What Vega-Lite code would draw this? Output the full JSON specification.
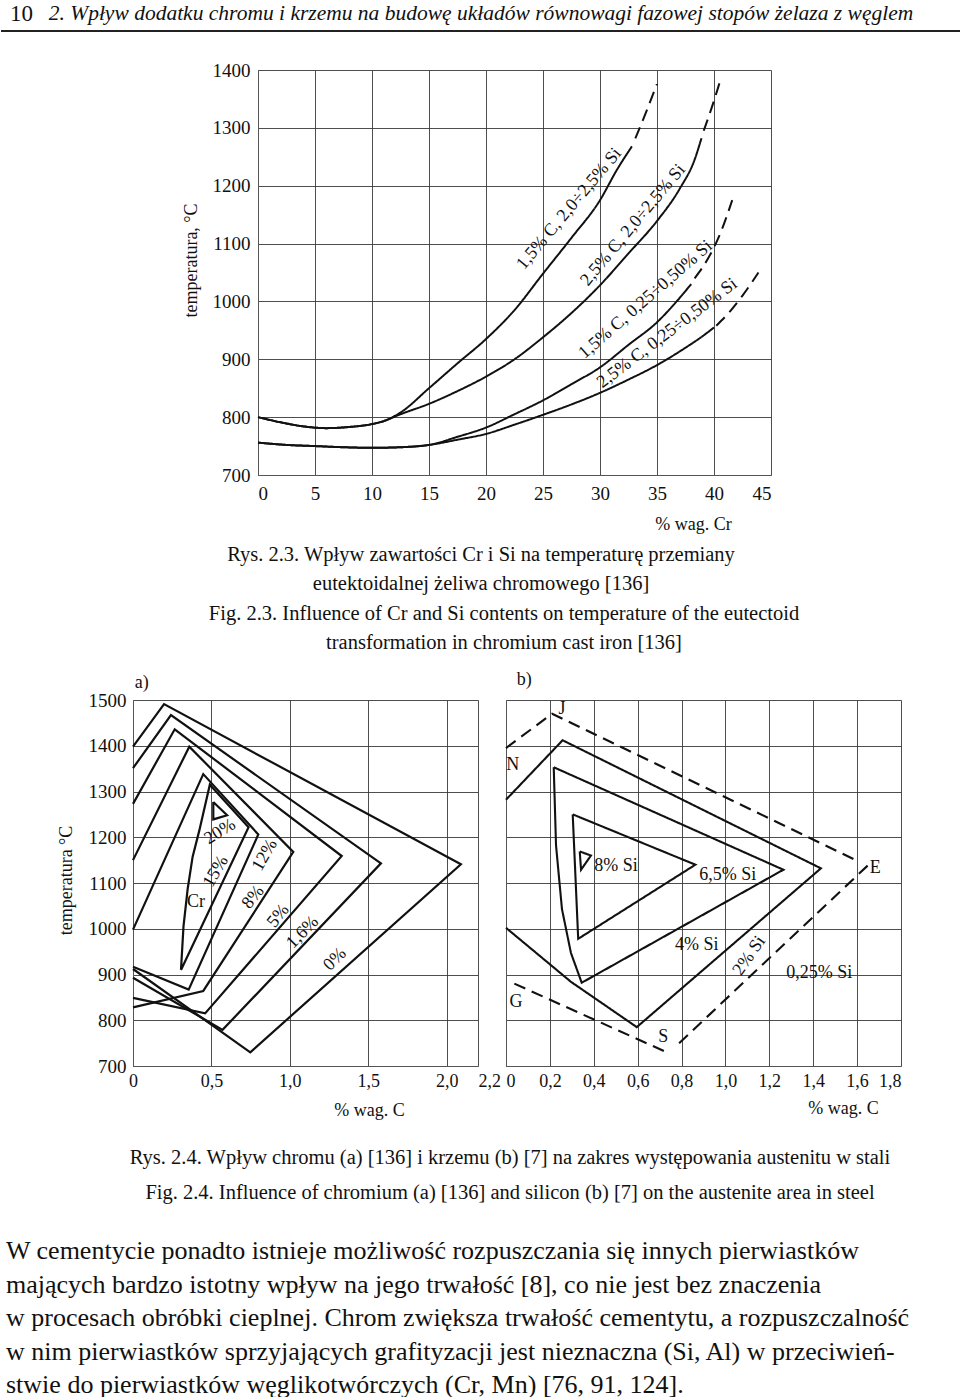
{
  "$schema": "https://vega.github.io/schema/vega-lite/v6.json",
  "padding": 0,
  "autosize": {"type": "pad"},
  "bounds": "flush",
  "spacing": 0,
  "background": "white",
  "config": {
    "view": {"stroke": null},
    "font": "Liberation Serif",
    "text": {"font": "Liberation Serif", "color": "#111"},
    "axis": {
      "labelFont": "Liberation Serif", "titleFont": "Liberation Serif",
      "labelColor": "#111", "titleColor": "#111", "titleFontWeight": "normal",
      "ticks": false, "gridColor": "#3a3a3a", "gridOpacity": 1, "gridWidth": 0.9,
      "domainColor": "#555", "labelFontSize": 19, "titleFontSize": 18, "labelOverlap": false
    }
  },
  "vconcat": [
    {
      "width": 960, "height": 31,
      "layer": [
        {
          "data": {"values": [{"t": "10"}]},
          "mark": {"type": "text", "align": "left", "fontSize": 23, "dx": 9, "dy": -2, "font": "Liberation Serif"},
          "encoding": {
            "text": {"field": "t"},
            "x": {"datum": 0, "type": "quantitative", "scale": {"domain": [0, 1]}, "axis": null}
          }
        },
        {
          "data": {"values": [{"t": "2. Wpływ dodatku chromu i krzemu na budowę układów równowagi fazowej stopów żelaza z węglem"}]},
          "mark": {"type": "text", "fontSize": 21.5, "fontStyle": "italic", "dy": -2, "font": "Liberation Serif"},
          "encoding": {"text": {"field": "t"}}
        },
        {
          "data": {"values": [{"r": 0}]},
          "mark": {"type": "rule", "strokeWidth": 2, "color": "#222"},
          "encoding": {"y": {"datum": 0, "type": "quantitative", "scale": {"domain": [0, 1]}, "axis": null}}
        }
      ]
    },
    {"width": 960, "height": 39, "data": {"values": []}, "mark": "point"},
    {
      "width": 960, "height": 405,
      "encoding": {
        "x": {"field": "cr", "type": "quantitative",
          "scale": {"domain": [0, 45], "range": [257, 770], "nice": false, "zero": false},
          "axis": {"values": [0, 5, 10, 15, 20, 25, 30, 35, 40, 45], "format": "d", "title": "% wag. Cr", "titleX": 692, "titleY": 40, "labelPadding": 9, "grid": true}},
        "y": {"field": "t", "type": "quantitative",
          "scale": {"domain": [700, 1400], "nice": false, "zero": false},
          "axis": {"values": [700, 800, 900, 1000, 1100, 1200, 1300, 1400], "format": "d", "offset": -257, "title": "temperatura, °C", "titleX": -67, "titleY": 190, "titleAngle": 270, "titleAlign": "center", "titleBaseline": "middle", "labelPadding": 8, "grid": true}}
      },
      "layer": [
        {
          "data": {"values": [
            {"s": "A1", "st": "solid", "i": 0, "cr": 0, "t": 800},
            {"s": "A1", "st": "solid", "i": 1, "cr": 2, "t": 791},
            {"s": "A1", "st": "solid", "i": 2, "cr": 4, "t": 784},
            {"s": "A1", "st": "solid", "i": 3, "cr": 6, "t": 781},
            {"s": "A1", "st": "solid", "i": 4, "cr": 8, "t": 783},
            {"s": "A1", "st": "solid", "i": 5, "cr": 10, "t": 788},
            {"s": "A1", "st": "solid", "i": 6, "cr": 11, "t": 793},
            {"s": "A1", "st": "solid", "i": 7, "cr": 12.5, "t": 808},
            {"s": "A1", "st": "solid", "i": 8, "cr": 15, "t": 850},
            {"s": "A1", "st": "solid", "i": 9, "cr": 17.5, "t": 893},
            {"s": "A1", "st": "solid", "i": 10, "cr": 20, "t": 935},
            {"s": "A1", "st": "solid", "i": 11, "cr": 22.5, "t": 985},
            {"s": "A1", "st": "solid", "i": 12, "cr": 25, "t": 1048},
            {"s": "A1", "st": "solid", "i": 13, "cr": 27.5, "t": 1110},
            {"s": "A1", "st": "solid", "i": 14, "cr": 30, "t": 1175},
            {"s": "A1", "st": "solid", "i": 15, "cr": 31.5, "t": 1228},
            {"s": "A1", "st": "solid", "i": 16, "cr": 32.8, "t": 1268},
            {"s": "A2", "st": "dashed", "i": 0, "cr": 33.1, "t": 1282},
            {"s": "A2", "st": "dashed", "i": 1, "cr": 34, "t": 1325},
            {"s": "A2", "st": "dashed", "i": 2, "cr": 35, "t": 1376},
            {"s": "B1", "st": "solid", "i": 0, "cr": 0, "t": 800},
            {"s": "B1", "st": "solid", "i": 1, "cr": 2, "t": 791},
            {"s": "B1", "st": "solid", "i": 2, "cr": 4, "t": 784},
            {"s": "B1", "st": "solid", "i": 3, "cr": 6, "t": 781},
            {"s": "B1", "st": "solid", "i": 4, "cr": 8, "t": 783},
            {"s": "B1", "st": "solid", "i": 5, "cr": 10, "t": 788},
            {"s": "B1", "st": "solid", "i": 6, "cr": 11, "t": 793},
            {"s": "B1", "st": "solid", "i": 7, "cr": 12.5, "t": 805},
            {"s": "B1", "st": "solid", "i": 8, "cr": 15, "t": 823},
            {"s": "B1", "st": "solid", "i": 9, "cr": 17.5, "t": 845},
            {"s": "B1", "st": "solid", "i": 10, "cr": 20, "t": 870},
            {"s": "B1", "st": "solid", "i": 11, "cr": 22.5, "t": 900},
            {"s": "B1", "st": "solid", "i": 12, "cr": 25, "t": 938},
            {"s": "B1", "st": "solid", "i": 13, "cr": 27.5, "t": 980},
            {"s": "B1", "st": "solid", "i": 14, "cr": 30, "t": 1028},
            {"s": "B1", "st": "solid", "i": 15, "cr": 32.5, "t": 1083},
            {"s": "B1", "st": "solid", "i": 16, "cr": 35, "t": 1139},
            {"s": "B1", "st": "solid", "i": 17, "cr": 37, "t": 1195},
            {"s": "B1", "st": "solid", "i": 18, "cr": 38.3, "t": 1245},
            {"s": "B1", "st": "solid", "i": 19, "cr": 38.9, "t": 1282},
            {"s": "B2", "st": "dashed", "i": 0, "cr": 39.1, "t": 1295},
            {"s": "B2", "st": "dashed", "i": 1, "cr": 39.8, "t": 1335},
            {"s": "B2", "st": "dashed", "i": 2, "cr": 40.6, "t": 1385},
            {"s": "C1", "st": "solid", "i": 0, "cr": 0, "t": 756},
            {"s": "C1", "st": "solid", "i": 1, "cr": 2.5, "t": 752},
            {"s": "C1", "st": "solid", "i": 2, "cr": 5, "t": 750},
            {"s": "C1", "st": "solid", "i": 3, "cr": 7.5, "t": 748},
            {"s": "C1", "st": "solid", "i": 4, "cr": 10, "t": 747},
            {"s": "C1", "st": "solid", "i": 5, "cr": 12.5, "t": 748},
            {"s": "C1", "st": "solid", "i": 6, "cr": 15, "t": 752},
            {"s": "C1", "st": "solid", "i": 7, "cr": 17.5, "t": 766},
            {"s": "C1", "st": "solid", "i": 8, "cr": 20, "t": 782},
            {"s": "C1", "st": "solid", "i": 9, "cr": 22.5, "t": 805},
            {"s": "C1", "st": "solid", "i": 10, "cr": 25, "t": 829},
            {"s": "C1", "st": "solid", "i": 11, "cr": 27.5, "t": 857},
            {"s": "C1", "st": "solid", "i": 12, "cr": 30, "t": 886},
            {"s": "C1", "st": "solid", "i": 13, "cr": 32.5, "t": 925},
            {"s": "C1", "st": "solid", "i": 14, "cr": 35, "t": 964},
            {"s": "C1", "st": "solid", "i": 15, "cr": 36.5, "t": 995},
            {"s": "C1", "st": "solid", "i": 16, "cr": 38, "t": 1030},
            {"s": "C2", "st": "dashed", "i": 0, "cr": 38.3, "t": 1040},
            {"s": "C2", "st": "dashed", "i": 1, "cr": 39.5, "t": 1075},
            {"s": "C2", "st": "dashed", "i": 2, "cr": 40.5, "t": 1115},
            {"s": "C2", "st": "dashed", "i": 3, "cr": 41.6, "t": 1175},
            {"s": "D1", "st": "solid", "i": 0, "cr": 0, "t": 756},
            {"s": "D1", "st": "solid", "i": 1, "cr": 2.5, "t": 752},
            {"s": "D1", "st": "solid", "i": 2, "cr": 5, "t": 750},
            {"s": "D1", "st": "solid", "i": 3, "cr": 7.5, "t": 748},
            {"s": "D1", "st": "solid", "i": 4, "cr": 10, "t": 747},
            {"s": "D1", "st": "solid", "i": 5, "cr": 12.5, "t": 748},
            {"s": "D1", "st": "solid", "i": 6, "cr": 15, "t": 752},
            {"s": "D1", "st": "solid", "i": 7, "cr": 17.5, "t": 761},
            {"s": "D1", "st": "solid", "i": 8, "cr": 20, "t": 771},
            {"s": "D1", "st": "solid", "i": 9, "cr": 22.5, "t": 787},
            {"s": "D1", "st": "solid", "i": 10, "cr": 25, "t": 804},
            {"s": "D1", "st": "solid", "i": 11, "cr": 27.5, "t": 822},
            {"s": "D1", "st": "solid", "i": 12, "cr": 30, "t": 842},
            {"s": "D1", "st": "solid", "i": 13, "cr": 32.5, "t": 865},
            {"s": "D1", "st": "solid", "i": 14, "cr": 35, "t": 890},
            {"s": "D1", "st": "solid", "i": 15, "cr": 37.5, "t": 920},
            {"s": "D1", "st": "solid", "i": 16, "cr": 39, "t": 940},
            {"s": "D1", "st": "solid", "i": 17, "cr": 40, "t": 955},
            {"s": "D2", "st": "dashed", "i": 0, "cr": 40.2, "t": 958},
            {"s": "D2", "st": "dashed", "i": 1, "cr": 41.5, "t": 985},
            {"s": "D2", "st": "dashed", "i": 2, "cr": 42.5, "t": 1010},
            {"s": "D2", "st": "dashed", "i": 3, "cr": 43.9, "t": 1050}
          ]},
          "mark": {"type": "line", "interpolate": "monotone", "strokeWidth": 2, "color": "#111"},
          "encoding": {
            "detail": {"field": "s"},
            "order": {"field": "i"},
            "strokeDash": {"field": "st", "type": "nominal", "scale": {"domain": ["solid", "dashed"], "range": [[1, 0], [12, 7]]}, "legend": null}
          }
        },
        {
          "data": {"values": [
            {"cr": 27.3, "t": 1160, "lab": "1,5% C, 2,0÷2,5% Si"},
            {"cr": 32.9, "t": 1132, "lab": "2,5% C, 2,0÷2,5% Si"}
          ]},
          "mark": {"type": "text", "fontSize": 18, "angle": 310, "font": "Liberation Serif"},
          "encoding": {"text": {"field": "lab"}}
        },
        {
          "data": {"values": [{"cr": 34.0, "t": 1003, "lab": "1,5% C, 0,25÷0,50% Si"}]},
          "mark": {"type": "text", "fontSize": 18, "angle": 319, "font": "Liberation Serif"},
          "encoding": {"text": {"field": "lab"}}
        },
        {
          "data": {"values": [{"cr": 35.9, "t": 945, "lab": "2,5% C, 0,25÷0,50% Si"}]},
          "mark": {"type": "text", "fontSize": 18, "angle": 323, "font": "Liberation Serif"},
          "encoding": {"text": {"field": "lab"}}
        }
      ]
    },
    {"width": 960, "height": 65, "data": {"values": []}, "mark": "point"},
    {
      "width": 960, "height": 59,
      "data": {"values": [
        {"i": 0, "t": "Rys. 2.3. Wpływ zawartości Cr i Si na temperaturę przemiany"},
        {"i": 1, "t": "eutektoidalnej żeliwa chromowego [136]"}
      ]},
      "mark": {"type": "text", "fontSize": 20.5, "font": "Liberation Serif"},
      "encoding": {
        "y": {"field": "i", "type": "ordinal", "axis": null, "scale": {"type": "point", "padding": 0.5}},
        "text": {"field": "t"}
      }
    },
    {
      "width": 960, "height": 59,
      "data": {"values": [
        {"i": 0, "t": "Fig. 2.3. Influence of Cr and Si contents on temperature of the eutectoid"},
        {"i": 1, "t": "transformation in chromium cast iron [136]"}
      ]},
      "mark": {"type": "text", "fontSize": 20.5, "dx": 23, "font": "Liberation Serif"},
      "encoding": {
        "y": {"field": "i", "type": "ordinal", "axis": null, "scale": {"type": "point", "padding": 0.5}},
        "text": {"field": "t"}
      }
    },
    {"width": 960, "height": 42, "data": {"values": []}, "mark": "point"},
    {
      "width": 960, "height": 366,
      "layer": [
        {
          "encoding": {
            "x": {"field": "c", "type": "quantitative",
              "scale": {"domain": [0, 2.2], "range": [132, 477], "nice": false, "zero": false},
              "axis": {"orient": "bottom", "values": [0, 0.5, 1, 1.5, 2, 2.2], "labelExpr": "datum.value == 0 ? '0' : replace(format(datum.value, '.1f'), '.', ',')", "labelAlign": {"condition": {"test": "datum.value > 2.1", "value": "left"}, "value": "center"}, "labelFontSize": 18, "title": "% wag. C", "titleX": 368, "titleY": 35, "labelPadding": 6, "grid": true}},
            "y": {"field": "t", "type": "quantitative",
              "scale": {"domain": [700, 1500], "nice": false, "zero": false},
              "axis": {"orient": "left", "values": [700, 800, 900, 1000, 1100, 1200, 1300, 1400, 1500], "format": "d", "offset": -132, "title": "temperatura °C", "titleX": -67, "titleY": 180, "titleAngle": 270, "titleAlign": "center", "titleBaseline": "middle", "labelPadding": 7, "grid": true}}
          },
          "layer": [
            {
              "data": {"values": [
                {"p": "0", "i": 0, "c": 0, "t": 1398},
                {"p": "0", "i": 1, "c": 0.198, "t": 1491},
                {"p": "0", "i": 2, "c": 2.091, "t": 1141},
                {"p": "0", "i": 3, "c": 0.748, "t": 730},
                {"p": "0", "i": 4, "c": 0, "t": 912},
                {"p": "1.6", "i": 0, "c": 0, "t": 1351},
                {"p": "1.6", "i": 1, "c": 0.242, "t": 1467},
                {"p": "1.6", "i": 2, "c": 1.581, "t": 1143},
                {"p": "1.6", "i": 3, "c": 0.571, "t": 779},
                {"p": "1.6", "i": 4, "c": 0, "t": 893},
                {"p": "5", "i": 0, "c": 0, "t": 1273},
                {"p": "5", "i": 1, "c": 0.266, "t": 1436},
                {"p": "5", "i": 2, "c": 1.331, "t": 1159},
                {"p": "5", "i": 3, "c": 0.46, "t": 815},
                {"p": "5", "i": 4, "c": 0, "t": 849},
                {"p": "8", "i": 0, "c": 0, "t": 1150},
                {"p": "8", "i": 1, "c": 0.359, "t": 1398},
                {"p": "8", "i": 2, "c": 1.022, "t": 1168},
                {"p": "8", "i": 3, "c": 0.448, "t": 864},
                {"p": "8", "i": 4, "c": 0, "t": 828},
                {"p": "12", "i": 0, "c": 0, "t": 998},
                {"p": "12", "i": 1, "c": 0.448, "t": 1338},
                {"p": "12", "i": 2, "c": 0.799, "t": 1206},
                {"p": "12", "i": 3, "c": 0.355, "t": 867},
                {"p": "12", "i": 4, "c": 0, "t": 917},
                {"p": "15", "i": 0, "c": 0.306, "t": 910},
                {"p": "15", "i": 1, "c": 0.322, "t": 1005},
                {"p": "15", "i": 2, "c": 0.349, "t": 1088},
                {"p": "15", "i": 3, "c": 0.38, "t": 1157},
                {"p": "15", "i": 4, "c": 0.423, "t": 1215},
                {"p": "15", "i": 5, "c": 0.49, "t": 1315},
                {"p": "15", "i": 6, "c": 0.737, "t": 1222},
                {"p": "15", "i": 7, "c": 0.306, "t": 910},
                {"p": "20", "i": 0, "c": 0.512, "t": 1277},
                {"p": "20", "i": 1, "c": 0.6, "t": 1248},
                {"p": "20", "i": 2, "c": 0.512, "t": 1239},
                {"p": "20", "i": 3, "c": 0.512, "t": 1277}
              ]},
              "mark": {"type": "line", "strokeWidth": 2.2, "color": "#111", "strokeJoin": "miter"},
              "encoding": {"detail": {"field": "p"}, "order": {"field": "i"}}
            },
            {
              "data": {"values": [
                {"c": 1.288, "t": 933, "lab": "0%"},
                {"c": 1.082, "t": 992, "lab": "1,6%"}
              ]},
              "mark": {"type": "text", "fontSize": 18, "angle": 315, "font": "Liberation Serif"},
              "encoding": {"text": {"field": "lab"}}
            },
            {
              "data": {"values": [
                {"c": 0.927, "t": 1028, "lab": "5%"},
                {"c": 0.767, "t": 1069, "lab": "8%"}
              ]},
              "mark": {"type": "text", "fontSize": 18, "angle": 309, "font": "Liberation Serif"},
              "encoding": {"text": {"field": "lab"}}
            },
            {
              "data": {"values": [
                {"c": 0.842, "t": 1161, "lab": "12%"},
                {"c": 0.529, "t": 1125, "lab": "15%"}
              ]},
              "mark": {"type": "text", "fontSize": 18, "angle": 300, "font": "Liberation Serif"},
              "encoding": {"text": {"field": "lab"}}
            },
            {
              "data": {"values": [{"c": 0.555, "t": 1212, "lab": "20%"}]},
              "mark": {"type": "text", "fontSize": 18, "angle": 328, "font": "Liberation Serif"},
              "encoding": {"text": {"field": "lab"}}
            },
            {
              "data": {"values": [
                {"c": 0.402, "t": 1059, "lab": "Cr"},
                {"c": 0.055, "t": 1538, "lab": "a)"}
              ]},
              "mark": {"type": "text", "fontSize": 18, "font": "Liberation Serif"},
              "encoding": {"text": {"field": "lab"}}
            }
          ]
        },
        {
          "encoding": {
            "x": {"field": "c", "type": "quantitative",
              "scale": {"domain": [0, 1.8], "range": [505, 900], "nice": false, "zero": false},
              "axis": {"orient": "bottom", "values": [0, 0.2, 0.4, 0.6, 0.8, 1, 1.2, 1.4, 1.6, 1.8], "labelExpr": "datum.value == 0 ? '0' : replace(format(datum.value, '.1f'), '.', ',')", "labelFontSize": 18, "title": "% wag. C", "titleX": 842, "titleY": 33, "labelPadding": 6, "grid": true}},
            "y": {"field": "t", "type": "quantitative",
              "scale": {"domain": [700, 1500], "nice": false, "zero": false},
              "axis": {"orient": "left", "values": [700, 800, 900, 1000, 1100, 1200, 1300, 1400, 1500], "offset": -505, "labels": false, "title": null, "grid": true}}
          },
          "layer": [
            {
              "data": {"values": [
                {"p": "dN", "st": "dashed", "i": 0, "c": 0, "t": 1395},
                {"p": "dN", "st": "dashed", "i": 1, "c": 0.21, "t": 1470},
                {"p": "dN", "st": "dashed", "i": 2, "c": 1.598, "t": 1149},
                {"p": "dE", "st": "dashed", "i": 0, "c": 1.648, "t": 1138},
                {"p": "dE", "st": "dashed", "i": 1, "c": 0.767, "t": 740},
                {"p": "dG", "st": "dashed", "i": 0, "c": 0.038, "t": 880},
                {"p": "dG", "st": "dashed", "i": 1, "c": 0.737, "t": 729},
                {"p": "s2", "st": "solid", "i": 0, "c": 0, "t": 1282},
                {"p": "s2", "st": "solid", "i": 1, "c": 0.258, "t": 1412},
                {"p": "s2", "st": "solid", "i": 2, "c": 1.435, "t": 1132},
                {"p": "s2", "st": "solid", "i": 3, "c": 0.596, "t": 785},
                {"p": "s2", "st": "solid", "i": 4, "c": 0.296, "t": 884},
                {"p": "s2", "st": "solid", "i": 5, "c": 0, "t": 1002},
                {"p": "s4", "st": "solid", "i": 0, "c": 0.2175, "t": 1353},
                {"p": "s4", "st": "solid", "i": 1, "c": 1.264, "t": 1129},
                {"p": "s4", "st": "solid", "i": 2, "c": 0.345, "t": 882},
                {"p": "s4", "st": "solid", "i": 3, "c": 0.296, "t": 947},
                {"p": "s4", "st": "solid", "i": 4, "c": 0.255, "t": 1043},
                {"p": "s4", "st": "solid", "i": 5, "c": 0.228, "t": 1182},
                {"p": "s4", "st": "solid", "i": 6, "c": 0.2175, "t": 1353},
                {"p": "s65", "st": "solid", "i": 0, "c": 0.304, "t": 1250},
                {"p": "s65", "st": "solid", "i": 1, "c": 0.863, "t": 1140},
                {"p": "s65", "st": "solid", "i": 2, "c": 0.329, "t": 978},
                {"p": "s65", "st": "solid", "i": 3, "c": 0.304, "t": 1250},
                {"p": "s8", "st": "solid", "i": 0, "c": 0.336, "t": 1169},
                {"p": "s8", "st": "solid", "i": 1, "c": 0.387, "t": 1160},
                {"p": "s8", "st": "solid", "i": 2, "c": 0.342, "t": 1129},
                {"p": "s8", "st": "solid", "i": 3, "c": 0.336, "t": 1169}
              ]},
              "mark": {"type": "line", "strokeWidth": 2.1, "color": "#111", "strokeJoin": "miter"},
              "encoding": {
                "detail": {"field": "p"},
                "order": {"field": "i"},
                "strokeDash": {"field": "st", "type": "nominal", "scale": {"domain": ["solid", "dashed"], "range": [[1, 0], [13, 8]]}, "legend": null}
              }
            },
            {
              "data": {"values": [
                {"c": 0.083, "t": 1543, "lab": "b)"},
                {"c": 0.255, "t": 1481, "lab": "J"},
                {"c": 0.031, "t": 1359, "lab": "N"},
                {"c": 0.501, "t": 1137, "lab": "8% Si"},
                {"c": 1.01, "t": 1118, "lab": "6,5% Si"},
                {"c": 1.683, "t": 1132, "lab": "E"},
                {"c": 0.869, "t": 965, "lab": "4% Si"},
                {"c": 1.428, "t": 903, "lab": "0,25% Si"},
                {"c": 0.046, "t": 840, "lab": "G"},
                {"c": 0.717, "t": 763, "lab": "S"}
              ]},
              "mark": {"type": "text", "fontSize": 18, "font": "Liberation Serif"},
              "encoding": {"text": {"field": "lab"}}
            },
            {
              "data": {"values": [{"c": 1.109, "t": 941, "lab": "2% Si"}]},
              "mark": {"type": "text", "fontSize": 18, "angle": 305, "font": "Liberation Serif"},
              "encoding": {"text": {"field": "lab"}}
            }
          ]
        }
      ],
      "resolve": {"scale": {"x": "independent", "y": "independent"}, "axis": {"x": "independent", "y": "independent"}}
    },
    {"width": 960, "height": 74, "data": {"values": []}, "mark": "point"},
    {
      "width": 960, "height": 70,
      "data": {"values": [
        {"i": 0, "t": "Rys. 2.4. Wpływ chromu (a) [136] i krzemu (b) [7] na zakres występowania austenitu w stali"},
        {"i": 1, "t": "Fig. 2.4. Influence of chromium (a) [136] and silicon (b) [7] on the austenite area in steel"}
      ]},
      "mark": {"type": "text", "fontSize": 20.5, "dx": 29, "font": "Liberation Serif"},
      "encoding": {
        "y": {"field": "i", "type": "ordinal", "axis": null, "scale": {"type": "point", "padding": 0.5}},
        "text": {"field": "t"}
      }
    },
    {"width": 960, "height": 41, "data": {"values": []}, "mark": "point"},
    {
      "width": 960, "height": 134,
      "data": {"values": [
        {"i": 0, "t": "  W cementycie ponadto istnieje możliwość rozpuszczania się innych pierwiastków"},
        {"i": 1, "t": "mających bardzo istotny wpływ na jego trwałość [8], co nie jest bez znaczenia"},
        {"i": 2, "t": "w procesach obróbki cieplnej. Chrom zwiększa trwałość cementytu, a rozpuszczalność"},
        {"i": 3, "t": "w nim pierwiastków sprzyjających grafityzacji jest nieznaczna (Si, Al) w przeciwień-"},
        {"i": 4, "t": "stwie do pierwiastków węglikotwórczych (Cr, Mn) [76, 91, 124]."}
      ]},
      "mark": {"type": "text", "fontSize": 26, "align": "left", "dx": 5, "font": "Liberation Serif"},
      "encoding": {
        "x": {"datum": 0, "type": "quantitative", "scale": {"domain": [0, 1]}, "axis": null},
        "y": {"field": "i", "type": "ordinal", "axis": null, "scale": {"type": "point", "padding": 0}},
        "text": {"field": "t"}
      }
    }
  ]
}
